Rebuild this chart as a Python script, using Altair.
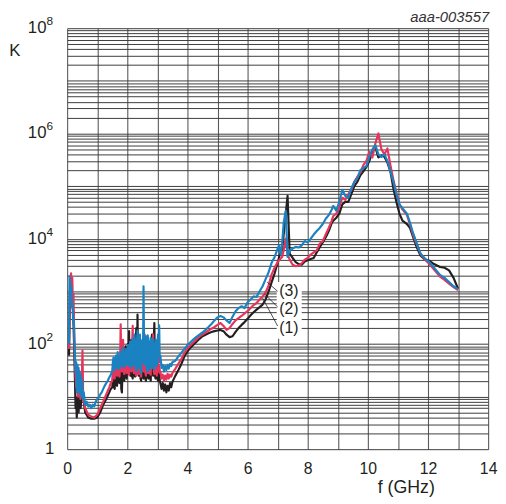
import altair as alt
import pandas as pd

# ---------------- data ----------------
# shared frequency grid for the noisy 1.5-3.1 GHz band
NOISE_F = [1.50, 1.52, 1.54, 1.56, 1.58, 1.60, 1.62, 1.64, 1.66, 1.68,
           1.70, 1.72, 1.74, 1.76, 1.78, 1.80, 1.82, 1.84, 1.86, 1.88,
           1.90, 1.92, 1.94, 1.96, 1.98, 2.00, 2.02, 2.04, 2.06, 2.08,
           2.10, 2.12, 2.14, 2.16, 2.18, 2.20, 2.22, 2.24, 2.26, 2.28,
           2.30, 2.32, 2.34, 2.36, 2.38, 2.40, 2.42, 2.44, 2.46, 2.48,
           2.50, 2.52, 2.54, 2.56, 2.58, 2.60, 2.62, 2.64, 2.66, 2.68,
           2.70, 2.72, 2.74, 2.76, 2.78, 2.80, 2.82, 2.84, 2.86, 2.88,
           2.90, 2.92, 2.94, 2.96, 2.98, 3.00, 3.02, 3.04, 3.06, 3.08,
           3.10]

# shared frequency grid above 3.1 GHz
HIGH_F = [3.14, 3.18, 3.22, 3.26, 3.30, 3.34, 3.38, 3.42, 3.46, 3.50,
          3.6, 3.7, 3.8, 3.9, 4.0, 4.1, 4.2, 4.3, 4.4, 4.5, 4.6, 4.7, 4.8, 4.9, 5.0,
          5.1, 5.2, 5.3, 5.4, 5.5, 5.6, 5.7, 5.8, 5.9, 6.0, 6.1, 6.2, 6.3, 6.4, 6.5,
          6.6, 6.7, 6.8, 6.9,
          7.0, 7.05, 7.1, 7.15, 7.2, 7.27, 7.33,
          7.4, 7.5, 7.6, 7.7, 7.8, 7.9, 8.0, 8.1, 8.2, 8.3, 8.4, 8.5, 8.6, 8.7, 8.8,
          8.85, 8.95, 9.05, 9.15, 9.25, 9.35, 9.45, 9.55, 9.65, 9.75, 9.85, 9.95,
          10.05, 10.15, 10.25, 10.35, 10.45, 10.55, 10.65, 10.75, 10.85, 10.95,
          11.05, 11.15, 11.3, 11.4, 11.5, 11.6, 11.75, 11.9, 12.05, 12.2,
          12.4, 12.55, 12.7, 12.85, 13.0]

# (1) black
S1_LOW_F = [0.06, 0.10, 0.13, 0.16, 0.20, 0.23, 0.26, 0.28, 0.30, 0.32, 0.35, 0.38, 0.42,
            0.45, 0.50, 0.55, 0.60, 0.70, 0.80, 0.90, 1.00, 1.10, 1.20, 1.30, 1.40, 1.45]
S1_LOW_K = [60, 1200, 1700, 800, 400, 100, 20, 6, 8, 4, 10, 5, 15,
            6, 20, 8, 5, 4, 3.8, 3.8, 4, 5, 7, 9, 12, 14]
S1_NOISE_K = [15, 22, 30, 15, 14, 25, 35, 17, 16, 45,
              40, 19, 18, 35, 60, 14, 12, 30, 50, 22,
              20, 55, 90, 25, 22, 60, 100, 50, 175, 30,
              25, 80, 120, 24, 22, 60, 90, 26, 24, 100,
              200, 30, 360, 28, 25, 70, 130, 22, 20, 60,
              100, 24, 22, 50, 90, 22, 20, 80, 120, 24,
              22, 50, 80, 22, 20, 90, 150, 28, 25, 120,
              250, 25, 22, 45, 70, 22, 20, 25, 35, 20,
              18]
S1_HIGH_K = [14, 18, 13, 17, 12, 16, 13, 18, 15, 19,
             25, 32, 42, 58, 72, 85, 97, 110, 125, 140, 150, 160, 168, 175, 180,
             185, 175, 150, 135, 140, 170, 200, 230, 260, 300, 350, 400, 450, 500, 560,
             700, 1000, 1500, 2200,
             3500, 4500, 5500, 6000, 12000, 30000, 65000,
             5200, 4300, 3600, 3300, 3200, 3700, 3900, 4100, 4300, 5500, 6900, 8500, 10700, 14000, 20000,
             22000, 25000, 30000, 45000, 50000, 50000, 70000, 100000, 120000, 160000, 190000, 230000,
             300000, 450000, 550000, 350000, 380000, 360000, 280000, 190000, 90000, 50000,
             30000, 22000, 19000, 16000, 11000, 7500, 4800, 4000, 3800, 3300,
             2900, 2800, 2500, 1800, 1120]

# (2) red
S2_LOW_F = [0.06, 0.10, 0.13, 0.15, 0.17, 0.19, 0.21, 0.23, 0.25, 0.27, 0.30, 0.33, 0.36,
            0.40, 0.44, 0.48, 0.51, 0.53, 0.56, 0.60, 0.70, 0.80, 0.90, 1.00, 1.10, 1.20,
            1.30, 1.40, 1.45]
S2_LOW_K = [80, 1500, 2200, 1000, 1800, 600, 900, 200, 80, 30, 15, 25, 10,
            20, 9, 15, 75, 12, 8, 6, 4.5, 4.2, 4, 4.5, 6, 8,
            11, 15, 18]
S2_NOISE_K = [20, 32, 40, 24, 22, 38, 50, 26, 25, 60,
              45, 26, 24, 40, 235, 32, 30, 70, 120, 30,
              27, 45, 60, 30, 28, 55, 80, 30, 26, 70,
              110, 32, 30, 90, 220, 34, 28, 60, 70, 27,
              25, 80, 130, 30, 27, 70, 90, 28, 24, 60,
              100, 32, 30, 60, 150, 28, 25, 70, 80, 28,
              28, 55, 60, 27, 26, 70, 90, 40, 150, 30,
              27, 50, 70, 28, 25, 45, 60, 30, 40, 28,
              30]
S2_HIGH_K = [22, 26, 20, 25, 21, 27, 22, 26, 24, 28,
             34, 42, 52, 68, 82, 95, 108, 122, 138, 150, 165, 180, 195, 210, 230,
             250, 220, 185, 200, 240, 280, 310, 340, 380, 420, 480, 550, 600, 700, 800,
             950, 1300, 2100, 2800,
             3600, 3900, 4200, 4500, 6000, 10000, 5000,
             4000, 3200, 3000, 3100, 3400, 4000, 4300, 5000, 5500, 6000, 8000, 9000, 12000, 16000, 22000,
             27000, 30000, 40000, 60000, 55000, 70000, 85000, 120000, 150000, 180000, 250000, 300000,
             450000, 350000, 650000, 1000000, 500000, 400000, 520000, 250000, 130000, 75000,
             45000, 36000, 28000, 19000, 12000, 8500, 5200, 4000, 3300, 2600,
             1900, 1650, 1400, 1200, 1050]

# (3) blue
S3_LOW_F = [0.06, 0.08, 0.10, 0.12, 0.14, 0.16, 0.18, 0.20, 0.22, 0.24, 0.26, 0.28, 0.30,
            0.32, 0.34, 0.36, 0.38, 0.40, 0.42, 0.44, 0.46, 0.48, 0.50, 0.52, 0.55, 0.60,
            0.65, 0.70, 0.75, 0.80, 0.85, 0.90, 0.95, 1.00, 1.05, 1.10, 1.15, 1.20, 1.25,
            1.30, 1.35, 1.40, 1.45]
S3_LOW_K = [100, 1950, 1500, 900, 1200, 500, 600, 250, 300, 120, 60, 30, 45,
            12, 40, 15, 35, 12, 30, 11, 25, 10, 20, 9, 12, 7,
            8, 6.5, 7, 6, 7, 6.5, 8, 9, 9.5, 11, 12, 14, 16,
            18, 20, 23, 26]
S3_NOISE_K = [30, 45, 55, 34, 32, 48, 60, 38, 35, 70,
              50, 36, 33, 52, 70, 40, 38, 85, 65, 42,
              36, 60, 80, 45, 40, 70, 95, 42, 38, 90,
              110, 40, 35, 75, 125, 45, 40, 150, 100, 36,
              30, 90, 180, 40, 35, 110, 150, 35, 28, 80,
              120, 45, 1250, 60, 40, 90, 140, 38, 30, 145,
              110, 35, 32, 90, 130, 40, 35, 125, 100, 38,
              33, 80, 120, 42, 38, 90, 150, 60, 225, 45,
              60]
S3_HIGH_K = [35, 40, 30, 38, 32, 40, 34, 42, 38, 45,
             48, 58, 68, 80, 95, 108, 122, 136, 150, 165, 185, 210, 240, 280, 320,
             340, 320, 280, 250, 330, 420, 480, 520, 480, 620, 700, 800, 780, 1000, 1250,
             1700, 2300, 3500, 4500,
             6500, 7500, 5000, 8000, 20000, 34000, 4500,
             6000, 6500, 7000, 6800, 7500, 9000, 8500, 10000, 12000, 14000, 16000, 19000, 24000, 28000, 36000,
             42000, 34000, 50000, 85000, 65000, 60000, 90000, 120000, 140000, 200000, 220000, 240000,
             360000, 500000, 600000, 400000, 360000, 400000, 300000, 190000, 120000, 70000,
             45000, 38000, 30000, 20000, 13000, 9000, 5200, 4200, 3600, 2800,
             2050, 1800, 1500, 1250, 1100]

SERIES_NAMES = ["(1)", "(2)", "(3)"]
SERIES_COLORS = ["#231f20", "#e8335a", "#1b82c2"]

# axis labels
X_TICKS = list(range(0, 15))
Y_DECADE_LABELS = [1e2, 1e4, 1e6, 1e8]
Y_DECADE_EXP = ["2", "4", "6", "8"]

# annotations (data coordinates)
ANNOT_TEXT = ["(3)", "(2)", "(1)"]
ANNOT_F = [7.37, 7.37, 7.37]
ANNOT_K = [1000, 450, 200]
LEADER_F1 = [6.65, 6.56, 6.50]
LEADER_K1 = [1500, 890, 745]
LEADER_F2 = [7.0, 7.0, 7.0]
LEADER_K2 = [1000, 505, 219]
BOX_F = [6.97, 7.80]
BOX_K = [125, 1500]

# ---------------- build ----------------
FONT = "Liberation Sans"
W, H = 427, 427

xs = alt.Scale(domain=[0, 14], nice=False, zero=False)
ys = alt.Scale(type="log", domain=[1, 1e8], nice=False)

Y_GRID = [m * 10 ** e for e in range(8) for m in range(1, 10)] + [1e8]


def make_df(name, low_f, low_k, noise_k, high_k):
    f = low_f + NOISE_F + HIGH_F
    k = low_k + noise_k + high_k
    assert len(f) == len(k), (name, len(f), len(k))
    return pd.DataFrame({"s": name, "f": f, "K": k, "i": list(range(len(f)))})


dfs = [
    make_df("(1)", S1_LOW_F, S1_LOW_K, S1_NOISE_K, S1_HIGH_K),
    make_df("(2)", S2_LOW_F, S2_LOW_K, S2_NOISE_K, S2_HIGH_K),
    make_df("(3)", S3_LOW_F, S3_LOW_K, S3_NOISE_K, S3_HIGH_K),
]

x_axis = alt.Axis(values=X_TICKS, labelExpr="datum.value % 2 == 0 ? datum.label : ''",
                  grid=True, gridColor="#5a5a5a", gridWidth=1.1, ticks=False, domain=False,
                  labelFontSize=16, labelPadding=12, labelColor="#231f20", labelFont=FONT,
                  labelFlush=False, title=None)
y_axis = alt.Axis(values=Y_GRID, labels=False, grid=True, gridColor="#3c3c3c", gridWidth=1,
                  ticks=False, domain=False, title=None)


def X(field):
    return alt.X(field, scale=xs, axis=x_axis)


def Y(field):
    return alt.Y(field, scale=ys, axis=y_axis)


# white box behind the (1)(2)(3) labels
box_df = pd.DataFrame({"f1": [BOX_F[0]], "f2": [BOX_F[1]], "k1": [BOX_K[0]], "k2": [BOX_K[1]]})
box = alt.Chart(box_df).mark_rect(color="white").encode(
    x=X("f1:Q"), x2="f2:Q", y=Y("k1:Q"), y2="k2:Q",
)

lines = []
for df, col in zip(dfs, SERIES_COLORS):
    lines.append(
        alt.Chart(df).mark_line(color=col, strokeWidth=2.2, clip=True, strokeJoin="round").encode(
            x=X("f:Q"), y=Y("K:Q"), order="i:Q",
        )
    )

lead_df = pd.DataFrame({"f1": LEADER_F1, "k1": LEADER_K1, "f2": LEADER_F2, "k2": LEADER_K2})
leaders = alt.Chart(lead_df).mark_rule(color="#231f20", strokeWidth=0.8).encode(
    x=X("f1:Q"), x2="f2:Q", y=Y("k1:Q"), y2="k2:Q",
)

annot_df = pd.DataFrame({"t": ANNOT_TEXT, "f": ANNOT_F, "K": ANNOT_K})
annots = alt.Chart(annot_df).mark_text(font=FONT, fontSize=16, color="#231f20",
                                       align="center", baseline="middle").encode(
    x=X("f:Q"), y=Y("K:Q"), text="t:N",
)

ylab_df = pd.DataFrame({"K": Y_DECADE_LABELS, "e": Y_DECADE_EXP})
ylab_base = alt.Chart(ylab_df).mark_text(font=FONT, fontSize=17, color="#231f20",
                                         align="right", baseline="middle", text="10").encode(
    x=alt.value(-21), y=Y("K:Q"),
)
ylab_exp = alt.Chart(ylab_df).mark_text(font=FONT, fontSize=12, color="#231f20",
                                        align="left", baseline="middle", dy=-7).encode(
    x=alt.value(-21), y=Y("K:Q"), text="e:N",
)
one_df = pd.DataFrame({"K": [1], "t": ["1"]})
ylab_one = alt.Chart(one_df).mark_text(font=FONT, fontSize=17, color="#231f20",
                                       align="right", baseline="middle").encode(
    x=alt.value(-13), y=Y("K:Q"), text="t:N",
)

ytitle = alt.Chart(pd.DataFrame({"t": ["K"]})).mark_text(
    font=FONT, fontSize=17, color="#231f20", align="center", baseline="middle").encode(
    x=alt.value(-53), y=alt.value(23), text="t:N")
xtitle = alt.Chart(pd.DataFrame({"t": ["f (GHz)"]})).mark_text(
    font=FONT, fontSize=18, color="#231f20", align="center", baseline="middle").encode(
    x=alt.value(344), y=alt.value(466), text="t:N")
code = alt.Chart(pd.DataFrame({"t": ["aaa-003557"]})).mark_text(
    font=FONT, fontSize=15, fontStyle="italic", color="#333333", align="right",
    baseline="middle").encode(x=alt.value(428), y=alt.value(-11), text="t:N")

chart = alt.layer(box, *lines, leaders, annots, ylab_base, ylab_exp, ylab_one,
                  ytitle, xtitle, code).properties(
    width=W, height=H,
    autosize=alt.AutoSizeParams(type="none"),
    padding={"left": 60, "top": 17, "right": 10, "bottom": 45},
    background="white",
).configure_view(strokeWidth=0)

chart.save("out.html", embed_options={"renderer": "svg", "actions": False})
